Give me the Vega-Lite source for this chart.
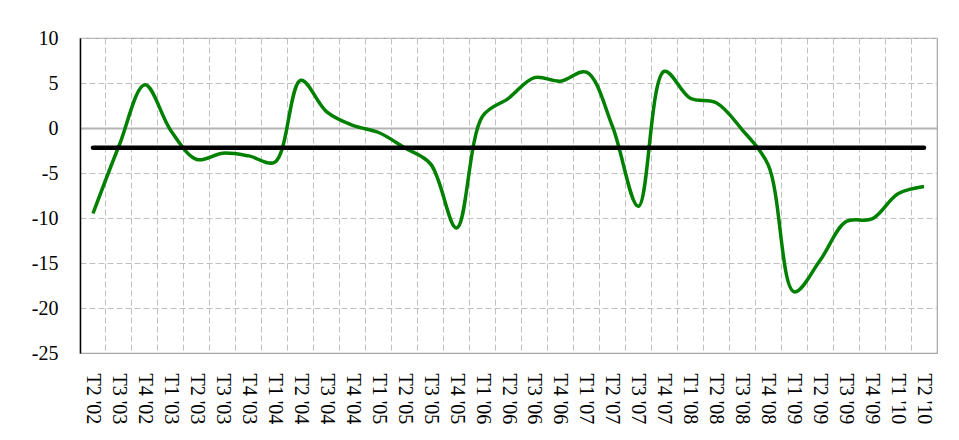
{
  "$schema": "https://vega.github.io/schema/vega-lite/v6.json",
  "width": 857,
  "height": 315,
  "autosize": {"type": "none"},
  "padding": {"left": 80, "top": 38, "right": 22, "bottom": 87},
  "background": "white",
  "config": {
    "view": {"stroke": "#A6A6A6", "strokeWidth": 1.2},
    "axis": {"labelFont": "Liberation Serif", "labelColor": "black"}
  },
  "data": {
    "values": [
      {"q": "T2 '02", "value": -9.5, "avg": -2.2},
      {"q": "T3 '03 ", "value": -2.0, "avg": -2.2},
      {"q": "T4 '02", "value": 4.8, "avg": -2.2},
      {"q": "T1 '03", "value": -0.3, "avg": -2.2},
      {"q": "T2 '03", "value": -3.5, "avg": -2.2},
      {"q": "T3 '03", "value": -2.8, "avg": -2.2},
      {"q": "T4 '03", "value": -3.1, "avg": -2.2},
      {"q": "T1 '04", "value": -3.8, "avg": -2.2},
      {"q": "T2 '04", "value": 5.3, "avg": -2.2},
      {"q": "T3 '04", "value": 1.8, "avg": -2.2},
      {"q": "T4 '04", "value": 0.3, "avg": -2.2},
      {"q": "T1 '05", "value": -0.5, "avg": -2.2},
      {"q": "T2 '05", "value": -2.2, "avg": -2.2},
      {"q": "T3 '05", "value": -4.0, "avg": -2.2},
      {"q": "T4 '05", "value": -11.1, "avg": -2.2},
      {"q": "T1 '06", "value": 1.3, "avg": -2.2},
      {"q": "T2 '06", "value": 3.3, "avg": -2.2},
      {"q": "T3 '06", "value": 5.6, "avg": -2.2},
      {"q": "T4 '06", "value": 5.2, "avg": -2.2},
      {"q": "T1 '07", "value": 6.2, "avg": -2.2},
      {"q": "T2 '07", "value": 0.2, "avg": -2.2},
      {"q": "T3 '07", "value": -8.7, "avg": -2.2},
      {"q": "T4 '07", "value": 6.3, "avg": -2.2},
      {"q": "T1 '08", "value": 3.3, "avg": -2.2},
      {"q": "T2 '08", "value": 2.8, "avg": -2.2},
      {"q": "T3 '08", "value": -0.2, "avg": -2.2},
      {"q": "T4 '08", "value": -4.1, "avg": -2.2},
      {"q": "T1 '09", "value": -18.2, "avg": -2.2},
      {"q": "T2 '09", "value": -14.7, "avg": -2.2},
      {"q": "T3 '09", "value": -10.4, "avg": -2.2},
      {"q": "T4 '09", "value": -10.1, "avg": -2.2},
      {"q": "T1 '10", "value": -7.3, "avg": -2.2},
      {"q": "T2 '10", "value": -6.5, "avg": -2.2}
    ]
  },
  "encoding": {
    "x": {
      "field": "q",
      "type": "ordinal",
      "sort": null,
      "scale": {"type": "band", "paddingInner": 0, "paddingOuter": 0},
      "axis": {
        "title": null,
        "labelAngle": 90,
        "labelFontSize": 20,
        "labelPadding": 20,
        "ticks": false,
        "domainColor": "#A6A6A6",
        "domainWidth": 1.2,
        "grid": true,
        "bandPosition": 0,
        "gridColor": "#C0C0C0",
        "gridDash": [6, 3],
        "gridWidth": 1
      }
    }
  },
  "layer": [
    {
      "mark": {"type": "line", "color": "#008000", "strokeWidth": 3.5, "interpolate": "catmull-rom"},
      "encoding": {
        "y": {
          "field": "value",
          "type": "quantitative",
          "scale": {"domain": [-25, 10], "nice": false, "zero": false},
          "axis": {
            "title": null,
            "values": [-25, -20, -15, -10, -5, 0, 5, 10],
            "labelExpr": "toString(datum.value)",
            "labelFontSize": 20,
            "labelPadding": 22,
            "ticks": false,
            "domainColor": "black",
            "domainWidth": 1.5,
            "gridColor": {"condition": {"test": "datum.value === 0", "value": "#B4B4B4"}, "value": "#C0C0C0"},
            "gridDash": {"condition": {"test": "datum.value === 0", "value": []}, "value": [6, 3]},
            "gridWidth": {"condition": {"test": "datum.value === 0", "value": 2}, "value": 1}
          }
        }
      }
    },
    {
      "mark": {"type": "line", "color": "black", "strokeWidth": 4.5, "strokeCap": "round"},
      "encoding": {
        "y": {"field": "avg", "type": "quantitative"}
      }
    }
  ]
}
